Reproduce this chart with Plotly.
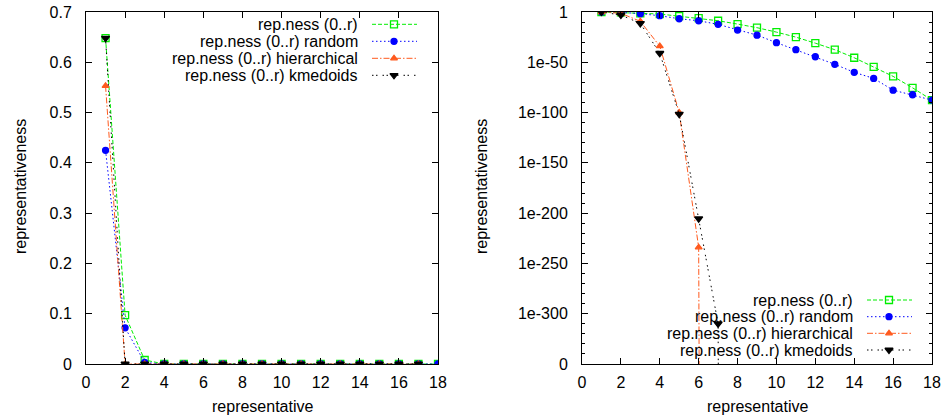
import plotly.graph_objects as go

# ---------------- data ----------------
reps = list(range(1, 19))
names = ["rep.ness (0..r)", "rep.ness (0..r) random",
         "rep.ness (0..r) hierarchical", "rep.ness (0..r) kmedoids"]

# left chart (linear)
left_plain = [0.648, 0.097, 0.008] + [0.0] * 15
left_random = [0.425, 0.072, 0.003] + [0.0] * 15
left_hier = [0.553] + [0.0] * 16          # x = 1..17
left_kmed = [0.648] + [0.0] * 16          # x = 1..17

# right chart (log scale) -- values given as base-10 exponents
right_plain = [0, -0.3, -1.3, -2, -4, -6, -8.7, -12, -15.6, -20, -25, -31,
               -37.5, -45.5, -54.5, -64, -75.4, -87.6]
right_random = [0, -0.3, -1.7, -3.7, -6.7, -8.7, -12.3, -18, -23, -30.5,
                -37.5, -44.5, -52, -60, -66, -77.7, -82.3, -87.6]
right_hier = [0, -1.3, -9.3, -34, -100, -234, -5000]      # last point far below axis
right_kmed = [0, -3, -11.3, -41, -101.5, -205.5, -310, -5000]

right_ticks = [-350, -300, -250, -200, -150, -100, -50, 0]
right_ticktext = ["0", "1e-300", "1e-250", "1e-200", "1e-150", "1e-100", "1e-50", "1"]

# ---------------- styles ----------------
FONT = "Liberation Sans, Arial, sans-serif"
FS = 16
styles = [
    dict(color="#00ee00", dash="4px,2px", symbol="square-open", size=7),
    dict(color="#0000ff", dash="1.5px,2.5px", symbol="circle", size=6),
    dict(color="#ff5a1e", dash="6px,2px,1.5px,2px", symbol="triangle-up", size=6),
    dict(color="#000000", dash="1.5px,2.5px,1.5px,5px", symbol="triangle-down", size=7),
]

fig = go.Figure()


def add_series(x, y, st, xa, ya):
    fig.add_trace(go.Scatter(
        x=x, y=y, mode="lines+markers", xaxis=xa, yaxis=ya, showlegend=False,
        line=dict(color=st["color"], width=1, dash=st["dash"]),
        marker=dict(symbol=st["symbol"], size=st["size"], color=st["color"],
                    line=dict(color=st["color"], width=1.3)),
    ))


left_data = [(reps, left_plain), (reps, left_random),
             (reps[:17], left_hier), (reps[:17], left_kmed)]
right_data = [(reps, right_plain), (reps, right_random),
              (reps[:len(right_hier)], right_hier), (reps[:len(right_kmed)], right_kmed)]

for (x, y), st in zip(left_data, styles):
    add_series(x, y, st, "x", "y")
for (x, y), st in zip(right_data, styles):
    add_series(x, y, st, "x2", "y2")

# ---------------- custom gnuplot-style legends (pixel overlay axis) ----------------
annotations = []


def legend(text_right, x0, x1, xm, rows_y):
    for name, st, yy in zip(names, styles, rows_y):
        fig.add_trace(go.Scatter(
            x=[x0, x1], y=[yy, yy], mode="lines", xaxis="x3", yaxis="y3",
            showlegend=False, hoverinfo="skip",
            line=dict(color=st["color"], width=1, dash=st["dash"])))
        fig.add_trace(go.Scatter(
            x=[xm], y=[yy], mode="markers", xaxis="x3", yaxis="y3",
            showlegend=False, hoverinfo="skip",
            marker=dict(symbol=st["symbol"], size=st["size"], color=st["color"],
                        line=dict(color=st["color"], width=1.3))))
        annotations.append(dict(
            x=text_right, y=yy, xref="x3", yref="y3", text=name, showarrow=False,
            xanchor="right", yanchor="middle", font=dict(family=FONT, size=FS, color="black")))


legend(360, 372, 417, 394, [24.3, 41.3, 58.3, 75.3])
legend(855, 867, 912, 889, [300, 316.7, 333.3, 350])

# axis titles
for (x, y, t, ang) in [(20, 187, "representativeness", -90),
                       (481, 187, "representativeness", -90),
                       (262, 406, "representative", 0),
                       (757, 406, "representative", 0)]:
    annotations.append(dict(x=x, y=y, xref="x3", yref="y3", text=t, showarrow=False,
                            textangle=ang, xanchor="center", yanchor="middle",
                            font=dict(family=FONT, size=FS, color="black")))

W, H = 945, 419


def xd(px):
    return px / W


def yd(py):
    return 1 - py / H


ydom = [yd(364), yd(12)]

common = dict(showline=True, linecolor="black", linewidth=1, mirror="ticks",
              ticks="inside", ticklen=6, tickcolor="black", tickwidth=1,
              showgrid=False, zeroline=False, fixedrange=True, automargin=False,
              ticklabeloverflow="allow",
              tickfont=dict(family=FONT, size=FS, color="black"))

fig.update_layout(
    width=W, height=H, margin=dict(l=0, r=0, t=0, b=0, pad=0),
    paper_bgcolor="white", plot_bgcolor="rgba(0,0,0,0)",
    font=dict(family=FONT, size=FS, color="black"),
    xaxis=dict(domain=[xd(86), xd(438)], range=[0, 18], dtick=2, anchor="y",
               ticklabelstandoff=4, **common),
    yaxis=dict(domain=ydom, range=[0, 0.7], dtick=0.1, tickformat=".1~f", anchor="x",
               ticklabelstandoff=10, **common),
    xaxis2=dict(domain=[xd(582), xd(932)], range=[0, 18], dtick=2, anchor="y2",
                ticklabelstandoff=4, **common),
    yaxis2=dict(domain=ydom, range=[-350, 0], tickmode="array", tickvals=right_ticks,
                ticktext=right_ticktext, anchor="x2", ticklabelstandoff=10,
                minor=dict(dtick=10, ticklen=3, ticks="inside", tickcolor="black"),
                **common),
    xaxis3=dict(domain=[0, 1], range=[0, W], visible=False, fixedrange=True,
                automargin=False, anchor="y3"),
    yaxis3=dict(domain=[0, 1], range=[H, 0], visible=False, fixedrange=True,
                automargin=False, anchor="x3"),
    annotations=annotations,
)

# remove the default 8px page margin so the figure fills the window exactly
fig.write_html("out.html",
               config={"displayModeBar": False, "staticPlot": True},
               post_script="document.body.style.margin='0';document.body.style.overflow='hidden';")
